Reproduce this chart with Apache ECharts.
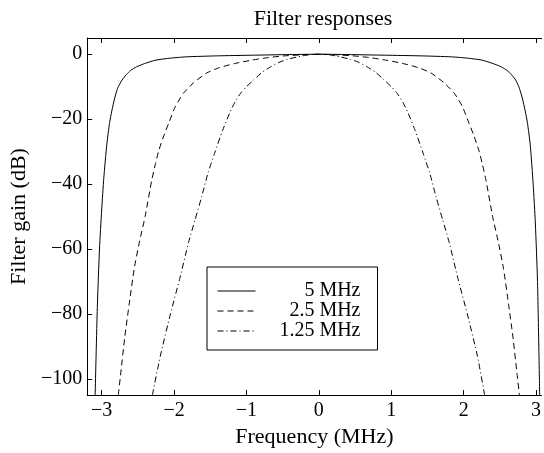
<!DOCTYPE html>
<html>
<head>
<meta charset="utf-8">
<script src="https://cdn.jsdelivr.net/npm/echarts@6/dist/echarts.min.js"></script>
<style>
  html, body { margin: 0; padding: 0; background: #fff; }
  #chart { width: 544px; height: 453px; }
</style>
</head>
<body>
<div id="chart"></div>
<script>
// 读图得到的数据（频率 MHz，增益 dB）
const freq5 = [-3.09, -3.06, -3.03, -3.00, -2.97, -2.93, -2.89, -2.86, -2.82, -2.78, -2.72, -2.66, -2.60, -2.52, -2.41, -2.25, -2.05, -1.83, -1.40, -0.92, -0.40, 0,
  0.40, 0.92, 1.40, 1.83, 2.05, 2.25, 2.41, 2.52, 2.60, 2.66, 2.72, 2.77, 2.81, 2.85, 2.88, 2.92, 2.96, 2.99, 3.02, 3.05];
const gain5 = [-105, -78, -60, -48, -38, -28, -21, -17.5, -13.5, -10.5, -8, -6.3, -5, -3.9, -2.9, -1.8, -1.2, -0.8, -0.5, -0.3, -0.1, 0,
  -0.1, -0.3, -0.5, -0.8, -1.2, -1.8, -2.9, -3.9, -5, -6.3, -8, -10.5, -13.5, -17.5, -21, -28, -40, -52, -70, -105];

const freq25 = [-2.77, -2.74, -2.68, -2.62, -2.55, -2.48, -2.40, -2.31, -2.26, -2.21, -2.14, -2.07, -1.98, -1.87, -1.73, -1.55, -1.37, -1.15, -0.92, -0.69, -0.47, -0.24, 0,
  0.24, 0.47, 0.69, 0.92, 1.15, 1.37, 1.55, 1.73, 1.87, 1.98, 2.07, 2.14, 2.21, 2.26, 2.31, 2.40, 2.48, 2.55, 2.62, 2.68, 2.74, 2.77];
const gain25 = [-105, -99, -87, -77, -66, -58, -50, -39, -34, -29.6, -25, -21, -16, -12, -8.8, -5.8, -4.1, -2.8, -1.8, -1.0, -0.5, -0.2, 0,
  -0.2, -0.5, -1.0, -1.8, -2.8, -4.1, -5.8, -8.8, -12, -16, -21, -25, -29.6, -34, -39, -50, -58, -66, -77, -87, -99, -105];

const freq125 = [-2.30, -2.19, -2.05, -1.92, -1.80, -1.71, -1.62, -1.53, -1.44, -1.33, -1.23, -1.16, -1.08, -1.00, -0.90, -0.78, -0.66, -0.55, -0.44, -0.29, -0.15, 0,
  0.15, 0.29, 0.44, 0.55, 0.66, 0.78, 0.90, 1.00, 1.08, 1.16, 1.23, 1.33, 1.44, 1.53, 1.62, 1.71, 1.80, 1.92, 2.05, 2.19, 2.29];
const gain125 = [-105, -93, -80, -69, -58, -51, -44, -36.5, -30.5, -23.5, -18, -14.8, -12, -10, -7.9, -5.5, -3.8, -2.5, -1.6, -0.8, -0.2, 0,
  -0.2, -0.8, -1.6, -2.5, -3.8, -5.5, -7.9, -10, -12, -14.8, -18, -23.5, -30.5, -36.5, -44, -51, -58, -69, -80, -93, -105];

const seriesNames = ['5 MHz', '2.5 MHz', '1.25 MHz'];
const xTicks = [-3, -2, -1, 0, 1, 2, 3];
const yTicks = [0, -20, -40, -60, -80, -100];

const zip = (xs, ys) => xs.map((x, i) => [x, ys[i]]);

(function () {
  const myChart = echarts.init(document.getElementById('chart'));
  const font = 'Liberation Serif';
  const minus = (v) => String(v).replace('-', '\u2212');

  // x 轴公共样式
  const xBase = {
    type: 'value',
    min: -3.2,
    max: 3.077,
    axisLine: { show: true, onZero: false, lineStyle: { color: '#000', width: 1 } },
    axisTick: { show: true, inside: true, length: 5, customValues: xTicks, lineStyle: { color: '#000' } },
    splitLine: { show: false },
  };

  const lineSeries = (name, xs, ys, dash) => ({
    name: name,
    type: 'line',
    xAxisIndex: 0,
    symbol: 'none',
    smooth: 0.2,
    lineStyle: { color: '#000', width: 1, type: dash },
    itemStyle: { color: '#000' },
    data: zip(xs, ys),
  });

  const option = {
    animation: false,
    backgroundColor: '#fff',
    title: {
      text: 'Filter responses',
      left: 318,
      top: 3,
      textAlign: 'center',
      textStyle: { fontFamily: font, fontSize: 22, fontWeight: 'normal', color: '#000' },
    },
    grid: {
      left: 82,
      right: 0,
      top: 38,
      bottom: 53,
      containLabel: false,
    },
    legend: {
      orient: 'vertical',
      left: 207,
      top: 267,
      padding: [14, 17, 9, 10],
      itemGap: 0,
      itemWidth: 38,
      itemHeight: 14,
      itemTextGap: 5,
      borderColor: '#000',
      borderWidth: 1,
      backgroundColor: '#fff',
      data: seriesNames,
      // 隐藏图例里的圆点，只留线型
      itemStyle: { color: 'rgba(0,0,0,0)', borderColor: 'rgba(0,0,0,0)', borderWidth: 0 },
      lineStyle: { width: 1 },
      formatter: (name) => '{t|' + name + '}',
      textStyle: {
        fontFamily: font,
        fontSize: 20,
        color: '#000',
        rich: {
          t: { fontFamily: font, fontSize: 20, color: '#000', width: 100, align: 'right', lineHeight: 19 },
        },
      },
    },
    xAxis: [
      Object.assign({}, xBase, {
        position: 'bottom',
        name: 'Frequency (MHz)',
        nameLocation: 'middle',
        nameGap: 27,
        nameTextStyle: { fontFamily: font, fontSize: 22, color: '#000' },
        axisLabel: {
          customValues: xTicks,
          margin: 6,
          fontFamily: font,
          fontSize: 20,
          color: '#000',
          formatter: minus,
        },
      }),
      Object.assign({}, xBase, {
        position: 'top',
        axisLabel: { show: false },
      }),
    ],
    yAxis: {
      type: 'value',
      min: -105,
      max: 5,
      name: 'Filter gain (dB)',
      nameLocation: 'middle',
      nameGap: 44,
      nameTextStyle: { fontFamily: font, fontSize: 22, color: '#000' },
      axisLine: { show: true, onZero: false, lineStyle: { color: '#000', width: 1 } },
      axisTick: { show: true, inside: true, length: 5, customValues: yTicks, lineStyle: { color: '#000' } },
      axisLabel: {
        customValues: yTicks,
        margin: 5,
        fontFamily: font,
        fontSize: 20,
        color: '#000',
        formatter: minus,
      },
      splitLine: { show: false },
    },
    series: [
      lineSeries(seriesNames[0], freq5, gain5, 'solid'),
      lineSeries(seriesNames[1], freq25, gain25, [6, 4]),
      lineSeries(seriesNames[2], freq125, gain125, [6, 3, 1, 3]),
    ],
  };

  myChart.setOption(option);

  window.addEventListener('resize', () => {
    myChart.resize();
  });
})();
</script>
</body>
</html>
